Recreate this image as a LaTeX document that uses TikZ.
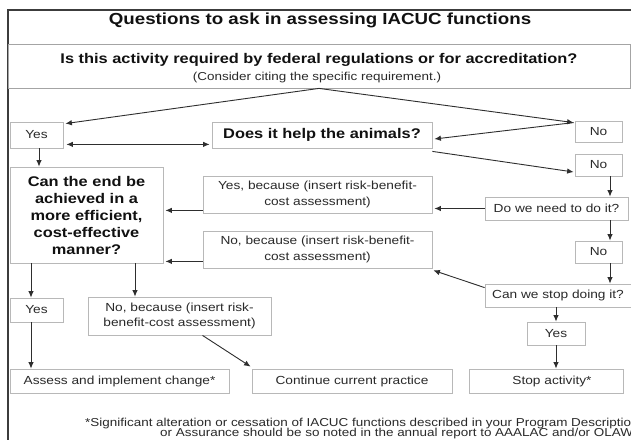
\documentclass[tikz,border=0pt]{standalone}
\usepackage{fontspec}
\setmainfont{Liberation Sans}[FakeStretch=1.17]
\usetikzlibrary{arrows.meta,calc}

\definecolor{framecol}{HTML}{3C3C3C}
\definecolor{headline}{HTML}{A4A4A4}
\definecolor{boxline}{HTML}{B8B8B8}
\definecolor{arrowcol}{HTML}{2E2E2E}
\definecolor{txt}{HTML}{2A2A2A}
\definecolor{txtbold}{HTML}{111111}

\tikzset{
  box/.style={draw=boxline, line width=0.8pt, inner sep=0pt, text=txt, align=center,
    font=\fontsize{11.7}{15.5}\selectfont},
  boldbox/.style={box, text=txtbold, font=\fontsize{14}{17}\selectfont\bfseries},
  link/.style={draw=arrowcol, line width=0.9pt, -{Latex[length=6.5pt,width=5.5pt]}},
  twoway/.style={link, {Latex[length=6.5pt,width=5.5pt]}-{Latex[length=6.5pt,width=5.5pt]}},
  note/.style={anchor=base west, inner sep=0pt, text=txt, font=\fontsize{11.5}{12}\selectfont},
}

\begin{document}
\begin{tikzpicture}[x=1pt,y=-1pt]
\useasboundingbox (0,0) rectangle (631,439);
\clip (0,0) rectangle (631,439);
\fill[white] (0,0) rectangle (631,439);

% outer frame (left and top edges)
\draw[framecol, line width=1.2pt] (8,445) -- (8,10) -- (640,10);

% heading and the main question
\node[anchor=base, inner sep=0pt, text=txtbold, font=\fontsize{16}{19}\selectfont\bfseries]
  (title) at (320,24) {Questions to ask in assessing IACUC functions};
\node[draw=headline, line width=0.8pt, minimum width=622, minimum height=44, inner sep=0pt]
  (q) at (319,66) {};
\node[anchor=base, inner sep=0pt, text=txtbold, font=\fontsize{14}{17}\selectfont\bfseries]
  (qtext) at (319,63) {Is this activity required by federal regulations or for accreditation?};
\node[anchor=base, inner sep=0pt, text=txt, font=\fontsize{11.5}{14}\selectfont]
  (qnote) at (317,80) {(Consider citing the specific requirement.)};

% decision boxes
\node[box, minimum width=53, minimum height=26]  (yes1)     at (36.5,135)  {Yes};
\node[boldbox, minimum width=220, minimum height=26] (help) at (322,135)   {Does it help the animals?};
\node[box, minimum width=47, minimum height=21]  (no1)      at (598.5,131.5) {No};
\node[box, minimum width=47, minimum height=22]  (no2)      at (598.5,165) {No};
\node[box, minimum width=229, minimum height=37] (yesb)     at (317.5,194.5)
  {Yes, because (insert risk-benefit-\\cost assessment)};
\node[boldbox, minimum width=153, minimum height=96] (canend) at (86.5,215)
  {Can the end be\\achieved in a\\more efficient,\\cost-effective\\manner?};
\node[box, minimum width=143, minimum height=23] (doweneed) at (556.5,208.5) {Do we need to do it?};
\node[box, minimum width=229, minimum height=37] (nob)      at (317.5,249.5)
  {No, because (insert risk-benefit-\\cost assessment)};
\node[box, minimum width=47, minimum height=22]  (no3)      at (598.5,252) {No};
\node[box, minimum width=146, minimum height=23] (canstop)  at (558,295.5) {Can we stop doing it?};
\node[box, minimum width=53, minimum height=24]  (yesL)     at (36.5,310)  {Yes};
\node[box, minimum width=183, minimum height=38] (noL)      at (179.5,316)
  {No, because (insert risk-\\benefit-cost assessment)};
\node[box, minimum width=58, minimum height=23]  (yes2)     at (556,333.5) {Yes};

% outcomes
\node[box, minimum width=219, minimum height=24] (assess) at (119.5,381) {Assess and implement change*};
\node[box, minimum width=200, minimum height=24] (cont)   at (352,381)   {Continue current practice};
\node[box, minimum width=154, minimum height=24] (stop)   at (546,381)   {\hspace{12pt}Stop activity*};

% vertical lanes for straight connectors
\coordinate (lx1) at (39,0);
\coordinate (lx2) at (31,0);
\coordinate (lx3) at (135,0);
\coordinate (rx)  at (610,0);

% connectors
\draw[link] (q.south) -- ($(yes1.north east)+(2,2)$);
\draw[link] (q.south) -- ($(no1.north west)+(-1,2)$);
\draw[link] ($(no1.north west)+(-1,2)$) -- ($(help.east)+(2,4)$);
\draw[twoway] ($(yes1.south east)+(3,-4)$) -- ($(help.south west)+(-2,-4)$);
\draw[link] ($(help.south east)+(0,3)$) -- ($(no2.west)+(-1,7)$);
\draw[link] (no2.south -| rx) -- (doweneed.north -| rx);
\draw[link] (doweneed.south -| rx) -- (no3.north -| rx);
\draw[link] (no3.south -| rx) -- (canstop.north -| rx);
\draw[link] (doweneed.west) -- ($(doweneed.west -| yesb.east)+(2,0)$);
\draw[link] ($(yesb.south west)+(0,-3)$) -- ($(canend.east |- yesb.south west)+(2,-3)$);
\draw[link] ($(nob.south west)+(0,-7)$) -- ($(canend.east |- nob.south west)+(2,-7)$);
\draw[link] ($(canstop.north west)+(0,4)$) -- ($(nob.south east)+(1,2)$);
\draw[link] (canstop.south -| yes2.north) -- (yes2.north);
\draw[link] (yes2.south) -- (stop.north -| yes2.south);
\draw[link] (yes1.south -| lx1) -- (canend.north -| lx1);
\draw[link] (canend.south -| lx2) -- (yesL.north -| lx2);
\draw[link] (canend.south -| lx3) -- (noL.north -| lx3);
\draw[link] (yesL.south -| lx2) -- (assess.north -| lx2);
\draw[link] ($(noL.south)+(23,0)$) -- ($(cont.north west)+(-1,-2)$);

% footnote (runs past the right edge of the frame)
\node[note] (fn1) at (85,426)
  {*Significant alteration or cessation of IACUC functions described in your Program Description};
\node[note] (fn2) at (160,436)
  {or Assurance should be so noted in the annual report to AAALAC and/or OLAW.};
\end{tikzpicture}
\end{document}
